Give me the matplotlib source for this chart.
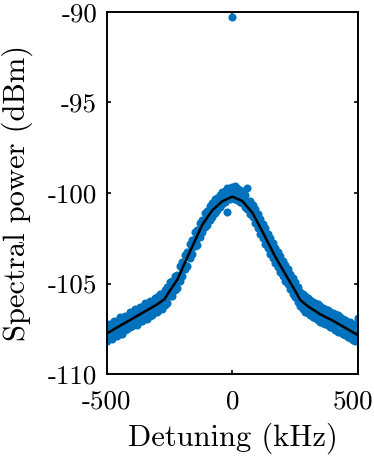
import numpy as np
import matplotlib
matplotlib.use('Agg')
import matplotlib.pyplot as plt
import matplotlib.transforms as mtransforms

detuning = [-500, -490, -480, -470, -460, -450, -440, -430, -420, -410,
            -400, -390, -380, -370, -360, -350, -340, -330, -320, -310,
            -300, -290, -280, -270, -260, -250, -240, -230, -220, -210,
            -200, -190, -180, -170, -160, -150, -140, -130, -120, -110,
            -100, -90, -80, -70, -60, -50, -40, -30, -20, -10,
            0, 10, 20, 30, 40, 50, 60, 70, 80, 90,
            100, 110, 120, 130, 140, 150, 160, 170, 180, 190,
            200, 210, 220, 230, 240, 250, 260, 270, 280, 290,
            300, 310, 320, 330, 340, 350, 360, 370, 380, 390,
            400, 410, 420, 430, 440, 450, 460, 470, 480, 490, 500]

power_hi = [-107.37, -107.22, -107.29, -107.09, -107.08, -106.87, -106.94, -106.79, -106.83, -106.59,
            -106.57, -106.42, -106.49, -106.29, -106.28, -106.07, -106.14, -105.99, -106.03, -105.79,
            -105.77, -105.60, -105.55, -105.35, -105.17, -104.92, -104.87, -104.60, -104.52, -104.05,
            -103.80, -103.42, -103.26, -102.83, -102.60, -102.17, -102.02, -101.65, -101.47, -101.11,
            -100.97, -100.70, -100.55, -100.35, -100.25, -100.12, -99.95, -99.90, -99.75, -99.70,
            -99.68, -99.62, -99.75, -99.85, -99.95, -100.10, -99.72, -100.45, -100.65, -100.90,
            -101.15, -101.45, -101.70, -101.95, -102.25, -102.50, -102.75, -103.05, -103.25, -103.50,
            -103.75, -104.00, -104.20, -104.45, -104.70, -104.90, -105.20, -105.45, -105.55, -105.70,
            -105.80, -105.90, -106.00, -106.05, -106.15, -106.25, -106.35, -106.40, -106.45, -106.55,
            -106.60, -106.70, -106.75, -106.85, -106.95, -107.00, -107.10, -107.15, -107.25, -107.30, -106.90]

power_mid = [-107.70, -107.75, -107.47, -107.51, -107.48, -107.25, -107.39, -107.13, -107.09, -107.06,
             -106.90, -106.95, -106.67, -106.71, -106.68, -106.45, -106.59, -106.33, -106.29, -106.26,
             -106.10, -106.13, -105.83, -105.75, -105.67, -105.30, -105.32, -104.94, -104.78, -104.52,
             -104.13, -103.95, -103.44, -103.25, -103.00, -102.55, -102.47, -101.99, -101.73, -101.58,
             -101.30, -101.23, -100.85, -100.75, -100.55, -100.45, -100.25, -100.20, -100.10, -100.00,
             -99.95, -100.00, -100.05, -100.15, -100.25, -100.40, -100.55, -100.75, -100.95, -101.25,
             -101.55, -101.80, -102.10, -102.35, -102.60, -102.90, -103.15, -103.40, -103.70, -103.90,
             -104.15, -104.35, -104.60, -104.85, -105.10, -105.30, -105.55, -105.80, -105.95, -106.05,
             -106.20, -106.30, -106.35, -106.50, -106.55, -106.65, -106.70, -106.80, -106.85, -106.95,
             -107.00, -107.10, -107.15, -107.25, -107.30, -107.40, -107.50, -107.55, -107.65, -107.75, -107.80]

power_lo = [-108.15, -108.00, -108.07, -107.87, -107.87, -107.65, -107.77, -107.57, -107.53, -107.38,
            -107.35, -107.20, -107.27, -107.07, -107.07, -106.85, -106.97, -106.77, -106.73, -106.58,
            -106.55, -106.38, -106.43, -106.21, -106.06, -105.70, -105.70, -105.38, -105.22, -104.84,
            -104.58, -104.20, -104.04, -103.61, -103.39, -102.95, -102.85, -102.43, -102.17, -101.90,
            -101.75, -101.48, -101.35, -101.10, -100.95, -100.75, -100.60, -100.50, -101.05, -100.35,
            -100.30, -100.35, -100.40, -100.50, -100.55, -100.75, -100.90, -101.15, -101.35, -101.65,
            -101.95, -102.25, -102.50, -102.80, -103.05, -103.35, -103.60, -103.85, -104.10, -104.35,
            -104.60, -104.85, -105.05, -105.30, -105.55, -105.75, -106.00, -106.25, -106.40, -106.55,
            -106.65, -106.75, -106.85, -106.90, -107.00, -107.10, -107.20, -107.25, -107.30, -107.40,
            -107.45, -107.55, -107.65, -107.70, -107.80, -107.85, -107.95, -108.00, -108.10, -108.15, -108.20]

# single spike at the carrier
spike_x = [0]
spike_y = [-90.3]

# fitted curve
fit_x = [-500, -450, -400, -350, -300, -270, -250, -220, -170, -120, -80, -40, 0,
         40, 80, 120, 170, 220, 250, 270, 300, 350, 400, 450, 500]
fit_y = [-107.75, -107.35, -106.95, -106.55, -106.15, -105.85, -105.40, -104.80, -103.25,
         -101.75, -100.95, -100.45, -100.20, -100.45, -101.10, -102.15, -103.50, -104.70,
         -105.40, -105.90, -106.25, -106.70, -107.05, -107.45, -107.85]

plt.rcParams['font.family'] = 'cmr10'
plt.rcParams['axes.formatter.use_mathtext'] = True

fig = plt.figure(figsize=(3.74, 4.59), dpi=100)
ax = fig.add_axes([0.286, 0.185, 0.671, 0.789])

blue = '#0072BD'
ms = 5.8
for yy in (power_hi, power_mid, power_lo):
    ax.plot(detuning, yy, 'o', color=blue, markersize=ms, markeredgewidth=0)
ax.plot(spike_x, spike_y, 'o', color=blue, markersize=ms, markeredgewidth=0)
ax.plot(fit_x, fit_y, color='k', linewidth=1.8)

ax.set_xlim(-500, 500)
ax.set_ylim(-110, -90)
ax.set_xticks([-500, 0, 500])
ax.set_xticklabels(['-500', '0', '500'])
ax.set_yticks([-110, -105, -100, -95, -90])
ax.set_yticklabels(['-110', '-105', '-100', '-95', '-90'])
ax.tick_params(direction='in', top=True, right=True, length=3, width=1.2,
               labelsize=19.5)
ax.tick_params(axis='x', pad=11)
ax.tick_params(axis='y', pad=7)
for s in ax.spines.values():
    s.set_linewidth(1.4)

# keep the right-most x label inside the figure
last = ax.get_xticklabels()[-1]
last.set_transform(last.get_transform() +
                   mtransforms.ScaledTranslation(-5 / 100, 0, fig.dpi_scale_trans))

ax.set_xlabel('Detuning (kHz)', fontsize=22)
ax.set_ylabel('Spectral power (dBm)', fontsize=22)
ax.xaxis.set_label_coords(0.5, -0.135)
ax.yaxis.set_label_coords(-0.295, 0.5)

fig.savefig('out.png', dpi=100)
